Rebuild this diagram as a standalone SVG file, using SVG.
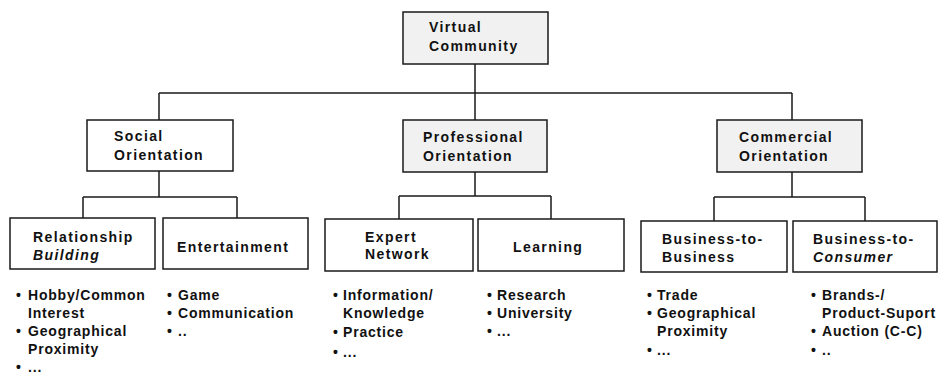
<svg xmlns="http://www.w3.org/2000/svg" width="943" height="376" viewBox="0 0 943 376">
  <style>
    .box { fill: #ffffff; stroke: #1a1a1a; stroke-width: 1.5; }
    .box.shade { fill: #f1f1f1; }
    .lbl { font-family: "Liberation Sans", Arial, Helvetica, sans-serif; font-size: 14px; font-weight: bold; letter-spacing: 1.4px; fill: #111; }
    .it { font-style: italic; }
    .item { font-family: "Liberation Sans", Arial, Helvetica, sans-serif; font-size: 14px; font-weight: bold; letter-spacing: 0.8px; fill: #111; }
    .wire { fill: none; stroke: #1a1a1a; stroke-width: 1.5; }
  </style>

  <!-- tree connectors -->
  <g id="connectors" class="wire">
    <path d="M475,64 V93 M159,93 H792 M159,93 V120 M475,93 V120 M792,93 V120"/>
    <path d="M159,171 V197 M83,197 H237 M83,197 V218 M237,197 V218"/>
    <path d="M475,172 V196 M399,196 H551 M399,196 V219 M551,196 V219"/>
    <path d="M792,172 V197 M714,197 H865 M714,197 V221 M865,197 V221"/>
  </g>

  <!-- root -->
  <g id="virtual-community">
    <rect class="box shade" x="403" y="12" width="145" height="52"/>
    <text class="lbl" x="429" y="32">Virtual</text>
    <text class="lbl" x="429" y="51">Community</text>
  </g>

  <!-- orientations -->
  <g id="social-orientation">
    <rect class="box" x="87" y="120" width="146" height="51"/>
    <text class="lbl" x="114" y="141">Social</text>
    <text class="lbl" x="114" y="160">Orientation</text>
  </g>
  <g id="professional-orientation">
    <rect class="box shade" x="403" y="120" width="144" height="52"/>
    <text class="lbl" x="423" y="142">Professional</text>
    <text class="lbl" x="423" y="161">Orientation</text>
  </g>
  <g id="commercial-orientation">
    <rect class="box shade" x="717" y="120" width="145" height="52"/>
    <text class="lbl" x="739" y="142">Commercial</text>
    <text class="lbl" x="739" y="161">Orientation</text>
  </g>

  <!-- leaf categories -->
  <g id="relationship-building">
    <rect class="box" x="10" y="218" width="145" height="51"/>
    <text class="lbl" x="33" y="242">Relationship</text>
    <text class="lbl it" x="33" y="260">Building</text>
  </g>
  <g id="entertainment">
    <rect class="box" x="163" y="218" width="145" height="51"/>
    <text class="lbl" x="177" y="252">Entertainment</text>
  </g>
  <g id="expert-network">
    <rect class="box" x="325" y="219" width="148" height="52"/>
    <text class="lbl" x="365" y="242">Expert</text>
    <text class="lbl" x="365" y="259">Network</text>
  </g>
  <g id="learning">
    <rect class="box" x="478" y="219" width="146" height="52"/>
    <text class="lbl" x="513" y="252">Learning</text>
  </g>
  <g id="business-to-business">
    <rect class="box" x="641" y="221" width="146" height="51"/>
    <text class="lbl" x="662" y="244">Business-to-</text>
    <text class="lbl" x="662" y="262">Business</text>
  </g>
  <g id="business-to-consumer">
    <rect class="box" x="793" y="221" width="144" height="51"/>
    <text class="lbl" x="813" y="244">Business-to-</text>
    <text class="lbl it" x="813" y="262">Consumer</text>
  </g>

  <!-- example lists -->
  <g id="list-relationship">
    <text class="item" x="16" y="300">•</text><text class="item" x="28" y="300">Hobby/Common</text>
    <text class="item" x="28" y="318">Interest</text>
    <text class="item" x="16" y="336">•</text><text class="item" x="28" y="336">Geographical</text>
    <text class="item" x="28" y="354">Proximity</text>
    <text class="item" x="16" y="372">•</text><text class="item" x="28" y="372">...</text>
  </g>
  <g id="list-entertainment">
    <text class="item" x="167" y="300">•</text><text class="item" x="178" y="300">Game</text>
    <text class="item" x="167" y="318">•</text><text class="item" x="178" y="318">Communication</text>
    <text class="item" x="167" y="336">•</text><text class="item" x="178" y="336">..</text>
  </g>
  <g id="list-expert">
    <text class="item" x="333" y="300">•</text><text class="item" x="343" y="300">Information/</text>
    <text class="item" x="343" y="318">Knowledge</text>
    <text class="item" x="333" y="337">•</text><text class="item" x="343" y="337">Practice</text>
    <text class="item" x="333" y="357">•</text><text class="item" x="343" y="357">...</text>
  </g>
  <g id="list-learning">
    <text class="item" x="487" y="300">•</text><text class="item" x="497" y="300">Research</text>
    <text class="item" x="487" y="318">•</text><text class="item" x="497" y="318">University</text>
    <text class="item" x="487" y="336">•</text><text class="item" x="497" y="336">...</text>
  </g>
  <g id="list-b2b">
    <text class="item" x="647" y="300">•</text><text class="item" x="657" y="300">Trade</text>
    <text class="item" x="647" y="318">•</text><text class="item" x="657" y="318">Geographical</text>
    <text class="item" x="657" y="336">Proximity</text>
    <text class="item" x="647" y="355">•</text><text class="item" x="657" y="355">...</text>
  </g>
  <g id="list-b2c">
    <text class="item" x="811" y="300">•</text><text class="item" x="822" y="300">Brands-/</text>
    <text class="item" x="822" y="318">Product-Suport</text>
    <text class="item" x="811" y="336">•</text><text class="item" x="822" y="336">Auction (C-C)</text>
    <text class="item" x="811" y="355">•</text><text class="item" x="822" y="355">..</text>
  </g>
</svg>
